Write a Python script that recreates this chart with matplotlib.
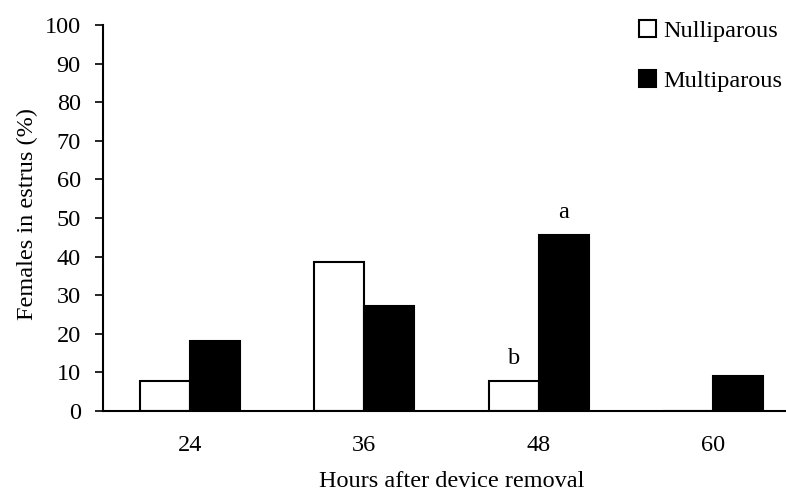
import matplotlib
matplotlib.use("Agg")
import matplotlib.pyplot as plt
import numpy as np

categories = ["24", "36", "48", "60"]
nulliparous = [7.7, 38.5, 7.7, 0.0]
multiparous = [18.2, 27.3, 45.5, 9.1]
annotations = [("Nulliparous", 2, "b"), ("Multiparous", 2, "a")]
yticks = list(range(0, 101, 10))

plt.rcParams['font.family'] = ['Liberation Serif', 'DejaVu Serif']
FS = 17.5

fig = plt.figure(figsize=(7.86, 4.91), dpi=100)
ax = fig.add_axes([103/786, 80/491, 697/786, 386/491])

x = np.arange(len(categories))
w = 0.287
bn = ax.bar(x - w/2, nulliparous, w, color="white", edgecolor="black", linewidth=1.5, label="Nulliparous")
bm = ax.bar(x + w/2, multiparous, w, color="black", edgecolor="black", linewidth=1.5, label="Multiparous")

for series, idx, lab in annotations:
    vals = nulliparous if series == "Nulliparous" else multiparous
    off = -w/2 if series == "Nulliparous" else w/2
    ax.annotate(lab, (idx + off, vals[idx]), xytext=(0, 9), textcoords="offset points",
                ha="center", va="bottom", fontsize=FS)

ax.set_xlim(-0.5, 3.5)
ax.set_ylim(0, 100)
ax.set_yticks(yticks)
ax.set_xticks(x)
ax.set_xticklabels(categories)
ax.tick_params(axis="y", direction="out", length=6, width=1.2, labelsize=FS, pad=10)
ax.tick_params(axis="x", length=0, labelsize=FS, pad=17)
for s in ["top", "right"]:
    ax.spines[s].set_visible(False)
for s in ["left", "bottom"]:
    ax.spines[s].set_linewidth(1.5)

ax.set_ylabel("Females in estrus (%)", fontsize=FS)
ax.yaxis.set_label_coords(-0.093, 0.51)
fig.text(452 / 786, 1 - 487/491, "Hours after device removal", fontsize=FS,
         ha="center", va="baseline")

leg = fig.legend(handles=[bn, bm], loc="upper left", bbox_to_anchor=(639/786, 1 - 20/491),
                 frameon=False, fontsize=FS, handlelength=0.7, handleheight=0.7,
                 handletextpad=0.3, labelspacing=1.15, borderpad=0, borderaxespad=0)

fig.savefig("out.png", dpi=100)
